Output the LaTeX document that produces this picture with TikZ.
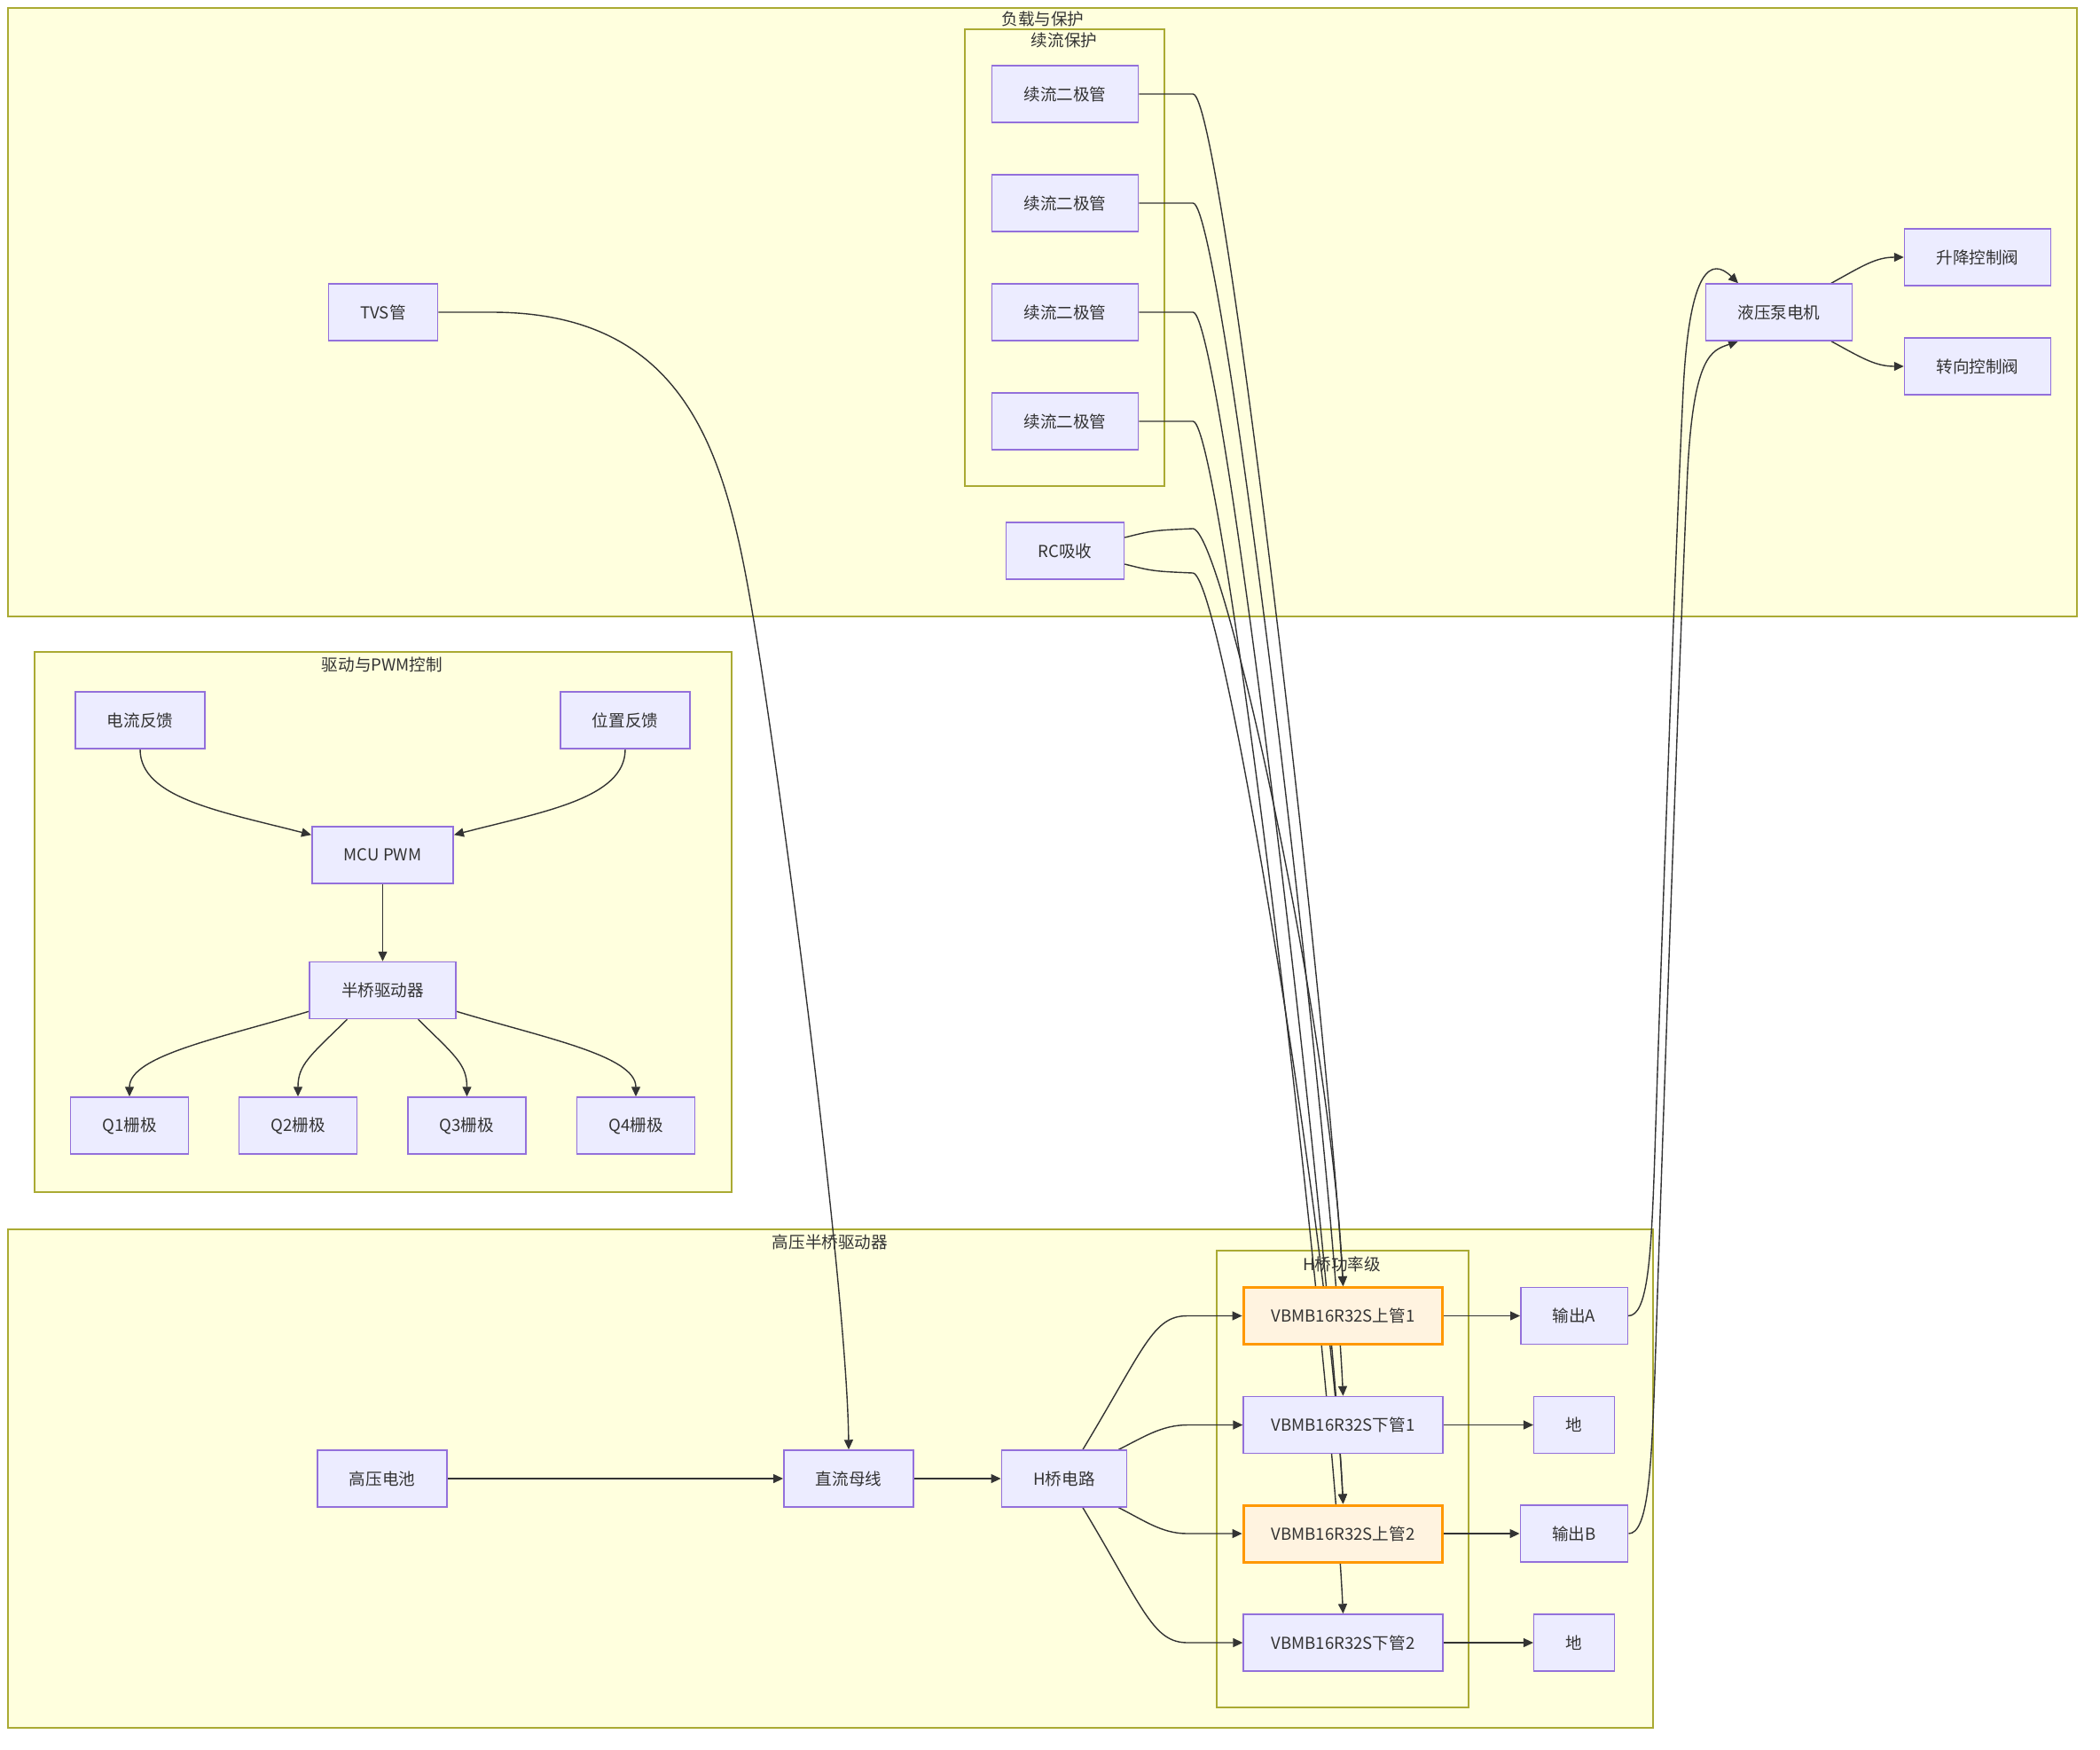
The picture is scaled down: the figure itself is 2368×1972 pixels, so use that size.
\documentclass[tikz,border=0pt]{standalone}
\usepackage{fontspec}
\setmainfont{Noto Sans CJK SC}
\usepackage{tikz}
\usetikzlibrary{arrows.meta,calc,backgrounds}
\definecolor{nodefill}{HTML}{ECECFF}
\definecolor{nodeline}{HTML}{9370DB}
\definecolor{hotfill}{HTML}{FFF3E0}
\definecolor{hotline}{HTML}{FF9800}
\definecolor{grpfill}{HTML}{FFFFDE}
\definecolor{grpline}{HTML}{AAAA33}
\definecolor{edgegray}{HTML}{333333}
\pgfdeclarelayer{edgelayer}
\pgfsetlayers{background,edgelayer,main}

\begin{document}
\begin{tikzpicture}[x=0.5pt, y=-0.5pt,
    box/.style={rectangle, draw=nodeline, fill=nodefill, line width=0.75pt,
        minimum height=32pt, inner xsep=18pt, text=edgegray,
        font=\fontsize{9.3pt}{11pt}\selectfont},
    fetbox/.style={box, inner xsep=15.7pt},
    hotbox/.style={fetbox, draw=hotline, fill=hotfill, line width=1.5pt},
    group/.style={draw=grpline, fill=grpfill, line width=0.75pt},
    grouptitle/.style={text=edgegray, inner sep=0pt, font=\fontsize{9.3pt}{11pt}\selectfont},
    arr/.style={-{Triangle[length=5.5pt,width=5pt]}, edgegray, line width=0.7pt}
]
    \useasboundingbox (0,0) rectangle (2368,1972);

    % groups
    \begin{scope}[on background layer]
        \draw[group] (9,9) rectangle (2342,695);
        \draw[group] (1088,33) rectangle (1313,548);
        \draw[group] (39,735) rectangle (825,1344);
        \draw[group] (9,1386) rectangle (1864,1948);
        \draw[group] (1372,1410) rectangle (1656,1925);
        \node[grouptitle] (tload) at (1176,21) {负载与保护};
        \node[grouptitle] (tfree) at (1200,45) {续流保护};
        \node[grouptitle] (tdrive) at (431,749) {驱动与PWM控制};
        \node[grouptitle] (thv) at (936,1400) {高压半桥驱动器};
        \node[grouptitle] (tstage) at (1513,1425) {H桥功率级};
    \end{scope}

    % load and protection
    \node[box] (d1) at (1201,106) {续流二极管};
    \node[box] (d2) at (1201,229) {续流二极管};
    \node[box] (d3) at (1201,352) {续流二极管};
    \node[box] (d4) at (1201,475) {续流二极管};
    \node[box] (rc) at (1201,621) {RC吸收};
    \node[box] (tvs) at (432,352) {TVS管};
    \node[box] (motor) at (2006,352) {液压泵电机};
    \node[box] (lift) at (2230,290) {升降控制阀};
    \node[box] (steer) at (2230,413) {转向控制阀};

    % drive and PWM
    \node[box] (ifb) at (158,812) {电流反馈};
    \node[box] (pfb) at (705,812) {位置反馈};
    \node[box] (mcu) at (431.5,964) {MCU PWM};
    \node[box] (hbd) at (431.5,1116.5) {半桥驱动器};
    \node[box] (g1) at (146,1269) {Q1栅极};
    \node[box] (g2) at (336,1269) {Q2栅极};
    \node[box] (g3) at (526.5,1269) {Q3栅极};
    \node[box] (g4) at (717,1269) {Q4栅极};

    % high voltage stage
    \node[box] (bat) at (431,1667) {高压电池};
    \node[box] (bus) at (957,1667) {直流母线};
    \node[box] (hbr) at (1200,1667) {H桥电路};
    \node[hotbox] (q1) at (1514.5,1483.5) {VBMB16R32S上管1};
    \node[fetbox] (q2) at (1514.5,1606.5) {VBMB16R32S下管1};
    \node[hotbox] (q3) at (1514.5,1729) {VBMB16R32S上管2};
    \node[fetbox] (q4) at (1514.5,1852) {VBMB16R32S下管2};
    \node[box] (outa) at (1775,1483.5) {输出A};
    \node[box] (gnd1) at (1775,1606.5) {地};
    \node[box] (outb) at (1775,1729) {输出B};
    \node[box] (gnd2) at (1775,1852) {地};

    \begin{pgfonlayer}{edgelayer}
    % drive edges
    \draw[arr] (ifb.south) .. controls (158,900) and (250,915) .. ($(mcu.north west)+(0,10)$);
    \draw[arr] (pfb.south) .. controls (705,900) and (613,915) .. ($(mcu.north east)+(0,10)$);
    \draw[arr] (mcu) -- (hbd);
    \draw[arr] ($(hbd.south west)+(0,-9)$) .. controls (250,1170) and (146,1190) .. (g1.north);
    \draw[arr] ($(hbd.south)+(-40,0)$) .. controls (350,1190) and (336,1200) .. (g2.north);
    \draw[arr] ($(hbd.south)+(40,0)$) .. controls (513,1190) and (526.5,1200) .. (g3.north);
    \draw[arr] ($(hbd.south east)+(0,-9)$) .. controls (613,1170) and (717,1190) .. (g4.north);

    % power chain
    \draw[arr] (bat) -- (bus);
    \draw[arr] (bus) -- (hbr);
    \draw[arr] ($(hbr.north)+(21,0)$) .. controls (1290,1520) and (1300,1483.5) .. ($(q1.west)+(-62,0)$) -- (q1.west);
    \draw[arr] ($(hbr.north east)+(-10,0)$) .. controls (1290,1620) and (1310,1606.5) .. ($(q2.west)+(-62,0)$) -- (q2.west);
    \draw[arr] ($(hbr.south east)+(-10,0)$) .. controls (1290,1714) and (1310,1729) .. ($(q3.west)+(-62,0)$) -- (q3.west);
    \draw[arr] ($(hbr.south)+(21,0)$) .. controls (1290,1815) and (1300,1852) .. ($(q4.west)+(-62,0)$) -- (q4.west);
    \draw[arr] (q1) -- (outa);
    \draw[arr] (q2) -- (gnd1);
    \draw[arr] (q3) -- (outb);
    \draw[arr] (q4) -- (gnd2);

    % protection edges
    \draw[arr] (tvs.east) -- ++(60,0) .. controls (780,352) and (820,520) .. (850,700)
        .. controls (880,880) and (955,1450) .. (bus.north);
    \draw[arr] (d1.east) -- ++(61,0) .. controls +(33,0) and (1497,1150) .. (q1.north);
    \draw[arr] (d2.east) -- ++(61,0) .. controls +(33,0) and (1500,1270) .. (q2.north);
    \draw[arr] (d3.east) -- ++(61,0) .. controls +(33,0) and (1500,1400) .. (q3.north);
    \draw[arr] (d4.east) -- ++(61,0) .. controls +(33,0) and (1500,1520) .. (q4.north);
    \draw[arr] ($(rc.east)+(0,-15)$) .. controls (1300,598) .. (1345,596)
        .. controls (1378,596) and (1500,1150) .. (q1.north);
    \draw[arr] ($(rc.east)+(0,15)$) .. controls (1300,644) .. (1345,646)
        .. controls (1378,646) and (1500,1400) .. (q3.north);

    % outputs to motor
    \draw[arr] (outa.east) .. controls (1858,1483.5) and (1862,1420) .. (1866,1300)
        .. controls (1874,1050) and (1890,600) .. (1898,440)
        .. controls (1905,300) and (1930,290) .. ($(motor.north)+(-46,0)$);
    \draw[arr] (outb.east) .. controls (1858,1729) and (1862,1660) .. (1866,1550)
        .. controls (1874,1300) and (1895,700) .. (1903,530)
        .. controls (1910,400) and (1930,395) .. ($(motor.south)+(-46,0)$);
    \draw[arr] ($(motor.north)+(59,0)$) .. controls (2100,300) and (2115,290) .. (lift.west);
    \draw[arr] ($(motor.south)+(59,0)$) .. controls (2100,404) and (2115,413) .. (steer.west);
    \end{pgfonlayer}
\end{tikzpicture}
\end{document}
